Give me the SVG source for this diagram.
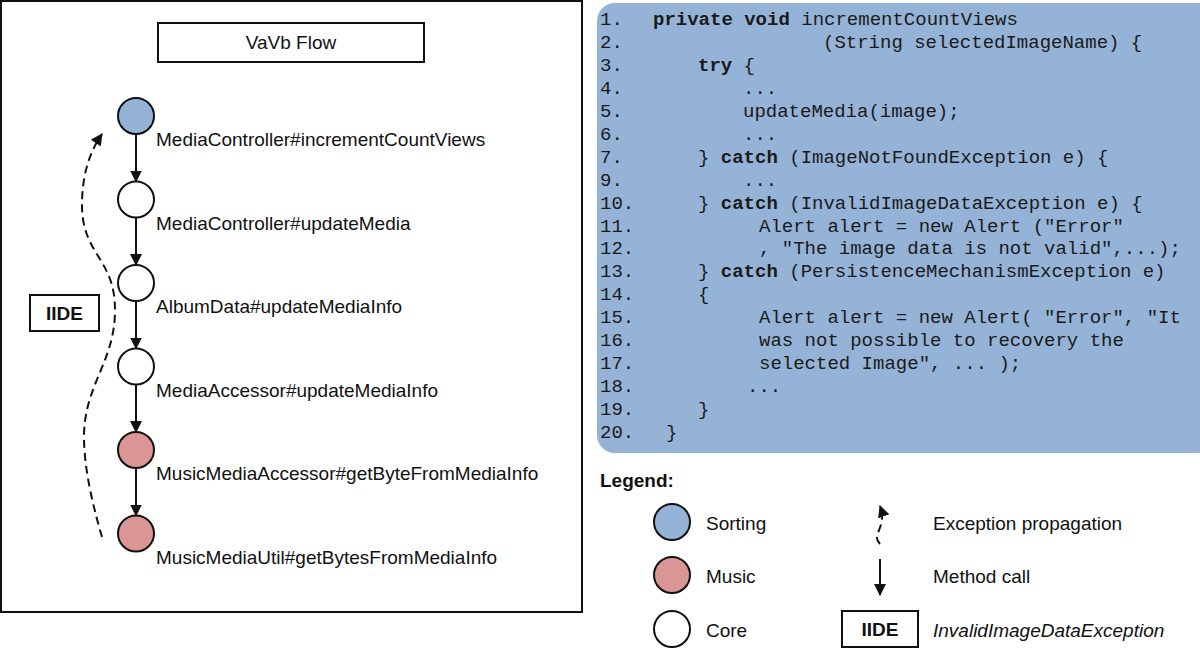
<svg xmlns="http://www.w3.org/2000/svg" width="1200" height="648" viewBox="0 0 1200 648">
<style>
.lbl{font-family:"Liberation Sans",Arial,sans-serif;font-size:19px;fill:#111}
.leg{font-family:"Liberation Sans",Arial,sans-serif;font-size:19px;fill:#111}
.bold{font-weight:bold}
.code{font-family:"Liberation Mono","Courier New",monospace;font-size:19px;fill:#1a1a1a}
.b{font-weight:bold}
.sort{fill:#95b3d7;stroke:#111;stroke-width:2}
.music{fill:#d99694;stroke:#111;stroke-width:2}
.core{fill:#fff;stroke:#111;stroke-width:2}
.call{stroke:#111;stroke-width:2;fill:none;marker-end:url(#arr)}
.exc{stroke:#111;stroke-width:2;fill:none;stroke-dasharray:8 5;marker-end:url(#arr)}
.box{fill:#fff;stroke:#111;stroke-width:2}
</style>
<defs>
<marker id="arr" viewBox="0 0 12 12" refX="11" refY="6" markerWidth="12" markerHeight="12" markerUnits="userSpaceOnUse" orient="auto">
<path d="M0,0 L12,6 L0,12 z" fill="#111"/>
</marker>
</defs>
<rect width="1200" height="648" fill="#fff"/>
<!-- left frame -->
<rect x="1" y="1" width="581" height="611" fill="#fff" stroke="#111" stroke-width="2"/>
<g id="title">
<rect class="box" x="158" y="23" width="266" height="39"/>
<text class="lbl" x="291" y="49" text-anchor="middle">VaVb Flow</text>
</g>
<g id="connectors">
<line class="call" x1="136" y1="134" x2="136" y2="181.5"/>
<line class="call" x1="136" y1="217.5" x2="136" y2="265"/>
<line class="call" x1="136" y1="301" x2="136" y2="348.5"/>
<line class="call" x1="136" y1="384.5" x2="136" y2="432"/>
<line class="call" x1="136" y1="468" x2="136" y2="515.5"/>
<path class="exc" d="M102,537 C94,510 84,470 84,437 C84,385 115,362 115,310 C115,258 82,255 82,205 C82,176 89,153 102,134"/>
</g>
<g id="n1"><circle class="sort" cx="136" cy="116" r="18"/><text class="lbl" x="156" y="146">MediaController#incrementCountViews</text></g>
<g id="n2"><circle class="core" cx="136" cy="199.5" r="18"/><text class="lbl" x="156" y="229.5">MediaController#updateMedia</text></g>
<g id="n3"><circle class="core" cx="136" cy="283" r="18"/><text class="lbl" x="156" y="313">AlbumData#updateMediaInfo</text></g>
<g id="n4"><circle class="core" cx="136" cy="366.5" r="18"/><text class="lbl" x="156" y="396.5">MediaAccessor#updateMediaInfo</text></g>
<g id="n5"><circle class="music" cx="136" cy="450" r="18"/><text class="lbl" x="156" y="480">MusicMediaAccessor#getByteFromMediaInfo</text></g>
<g id="n6"><circle class="music" cx="136" cy="533.5" r="18"/><text class="lbl" x="156" y="563.5">MusicMediaUtil#getBytesFromMediaInfo</text></g>
<g id="iide">
<rect class="box" x="30" y="295" width="69" height="36"/>
<text class="lbl bold" x="64.5" y="320" text-anchor="middle">IIDE</text>
</g>
<!-- code panel -->
<g id="code">
<rect x="597" y="3" width="618" height="450" rx="18" fill="#95b3d7"/>
<g class="code" xml:space="preserve">
<text x="600" y="25">1.</text><text x="653" y="25"><tspan class="b">private void</tspan> incrementCountViews</text>
<text x="600" y="47.9">2.</text><text x="823" y="47.9">(String selectedImageName) {</text>
<text x="600" y="70.9">3.</text><text x="698" y="70.9"><tspan class="b">try</tspan> {</text>
<text x="600" y="93.8">4.</text><text x="743" y="93.8">...</text>
<text x="600" y="116.8">5.</text><text x="743" y="116.8">updateMedia(image);</text>
<text x="600" y="139.7">6.</text><text x="743" y="139.7">...</text>
<text x="600" y="162.6">7.</text><text x="698" y="162.6">} <tspan class="b">catch</tspan> (ImageNotFoundException e) {</text>
<text x="600" y="185.6">9.</text><text x="743" y="185.6">...</text>
<text x="600" y="208.5">10.</text><text x="698" y="208.5">} <tspan class="b">catch</tspan> (InvalidImageDataException e) {</text>
<text x="600" y="231.5">11.</text><text x="759" y="231.5">Alert alert = new Alert ("Error"</text>
<text x="600" y="254.4">12.</text><text x="759" y="254.4">, "The image data is not valid",...);</text>
<text x="600" y="277.3">13.</text><text x="698" y="277.3">} <tspan class="b">catch</tspan> (PersistenceMechanismException e)</text>
<text x="600" y="300.3">14.</text><text x="698" y="300.3">{</text>
<text x="600" y="323.2">15.</text><text x="759" y="323.2">Alert alert = new Alert( "Error", "It</text>
<text x="600" y="346.2">16.</text><text x="759" y="346.2">was not possible to recovery the</text>
<text x="600" y="369.1">17.</text><text x="759" y="369.1">selected Image", ... );</text>
<text x="600" y="392">18.</text><text x="747" y="392">...</text>
<text x="600" y="415">19.</text><text x="698" y="415">}</text>
<text x="600" y="437.9">20.</text><text x="666" y="437.9">}</text>
</g>
</g>
<!-- legend -->
<g id="legend">
<text class="leg bold" x="600" y="487" font-size="18.5">Legend:</text>
<g id="leg-sorting"><circle class="sort" cx="672" cy="522" r="18"/><text class="leg" x="706" y="530">Sorting</text></g>
<g id="leg-music"><circle class="music" cx="672" cy="575" r="18"/><text class="leg" x="706" y="583">Music</text></g>
<g id="leg-core"><circle class="core" cx="672" cy="629" r="18"/><text class="leg" x="706" y="637">Core</text></g>
<g id="leg-exc"><path class="exc" d="M880,544 C870,534 888,528 880,506" stroke-dasharray="5 4"/><text class="leg" x="933" y="530">Exception propagation</text></g>
<g id="leg-call"><line class="call" x1="880" y1="559" x2="880" y2="595"/><text class="leg" x="933" y="583">Method call</text></g>
<g id="leg-iide"><rect class="box" x="842" y="611" width="76" height="36"/><text class="leg bold" x="880" y="636" text-anchor="middle">IIDE</text><text class="leg" x="933" y="637" font-style="italic">InvalidImageDataException</text></g>
</g>
</svg>
